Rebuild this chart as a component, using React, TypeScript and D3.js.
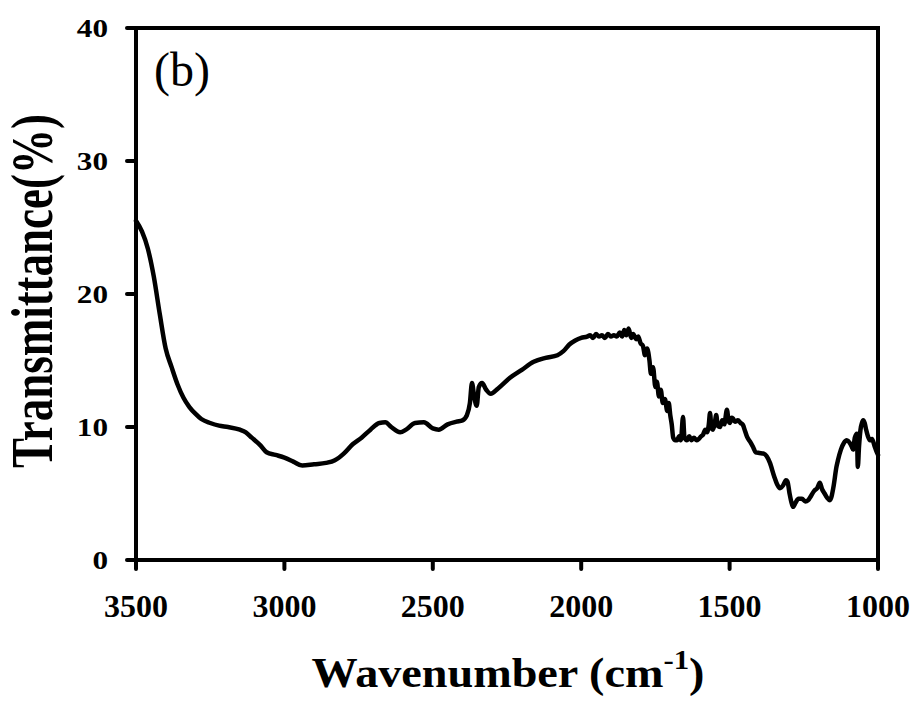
import React from "react";
import * as d3 from "d3";

const wavenumber = [
  3500, 3480, 3460, 3440, 3420, 3400, 3380, 3360, 3340, 3320, 3300, 3280, 3250, 3220, 3190, 3150, 3130, 3110, 3080, 3060,
  3030, 3000, 2970, 2940, 2900, 2860, 2830, 2800, 2770, 2740, 2710, 2680, 2660, 2640, 2610, 2590, 2560, 2530, 2500, 2480,
  2450, 2420, 2400, 2385, 2375, 2368, 2360, 2352, 2345, 2334, 2320, 2305, 2280, 2240, 2200, 2160, 2120, 2080, 2060, 2040,
  2020, 2000, 1980, 1970, 1960, 1950, 1940, 1930, 1920, 1910, 1900, 1890, 1880, 1870, 1862, 1855, 1848, 1840, 1832, 1825,
  1815, 1808, 1800, 1792, 1785, 1778, 1770, 1765, 1758, 1750, 1745, 1738, 1732, 1725, 1718, 1710, 1705, 1700, 1695, 1690,
  1683, 1677, 1670, 1664, 1657, 1652, 1644, 1636, 1628, 1620, 1612, 1604, 1596, 1590, 1582, 1576, 1570, 1566, 1561, 1556,
  1550, 1545, 1540, 1532, 1525, 1518, 1509, 1503, 1499, 1493, 1489, 1482, 1472, 1463, 1455, 1448, 1441, 1431, 1421, 1412,
  1400, 1385, 1375, 1364, 1350, 1340, 1330, 1320, 1310, 1305, 1298, 1290, 1286, 1278, 1268, 1256, 1245, 1235, 1229, 1215,
  1205, 1196, 1188, 1180, 1172, 1162, 1150, 1140, 1135, 1125, 1115, 1105, 1095, 1088, 1084, 1078, 1071, 1068, 1064, 1059,
  1054, 1050, 1045, 1040, 1034, 1027, 1020, 1012, 1003, 1000,
];

const transmittance = [
  25.5, 24.7, 23.4, 21.3, 18.5, 15.9, 14.5, 13.2, 12.2, 11.5, 11.0, 10.6, 10.3, 10.1, 10.0, 9.8, 9.6, 9.2, 8.6, 8.1,
  7.9, 7.7, 7.4, 7.1, 7.2, 7.3, 7.5, 8.0, 8.7, 9.2, 9.8, 10.3, 10.35, 10.0, 9.6, 9.8, 10.3, 10.35, 9.9, 9.8,
  10.2, 10.4, 10.5, 10.9, 11.8, 13.3, 12.2, 11.6, 13.0, 13.3, 12.8, 12.5, 12.9, 13.7, 14.3, 14.9, 15.2, 15.4, 15.7, 16.2,
  16.5, 16.7, 16.8, 16.9, 16.7, 17.0, 16.8, 16.9, 16.7, 17.0, 16.8, 16.9, 16.8, 17.1, 16.8, 17.3, 16.9, 17.4, 16.7, 17.0,
  16.6, 16.8, 16.3, 16.1, 15.4, 15.9, 15.0, 14.0, 14.5, 13.0, 13.4, 12.3, 12.8, 11.8, 12.1, 11.2, 11.8, 10.9, 10.2, 9.2,
  9.0, 9.0, 9.3, 9.0, 10.75, 9.2, 9.0, 9.3, 9.0, 9.2, 9.0, 9.1, 9.3, 9.4, 9.8, 9.6, 10.2, 11.05, 9.9, 9.8,
  10.3, 10.9, 10.1, 10.0, 10.5, 10.2, 11.3, 10.4, 10.3, 10.7, 10.65, 10.4, 10.5, 10.3, 10.15, 9.7, 9.25, 8.9, 8.5, 8.1,
  8.05, 8.0, 7.8, 7.3, 6.3, 5.7, 5.4, 5.6, 6.0, 5.9, 5.0, 4.2, 4.0, 4.3, 4.6, 4.6, 4.4, 4.5, 4.7, 5.2,
  5.4, 5.8, 5.3, 5.0, 4.7, 4.5, 5.5, 7.0, 7.5, 8.3, 8.8, 9.0, 8.8, 8.5, 8.3, 9.2, 9.5, 7.0, 8.5, 9.8,
  10.3, 10.5, 10.3, 9.8, 9.3, 9.0, 9.1, 8.6, 8.05, 7.9,
];

const xTicks = [3500, 3000, 2500, 2000, 1500, 1000];
const yTicks = [0, 10, 20, 30, 40];

const W = 915;
const H = 702;
const left = 136;
const right = 878;
const top = 28;
const bottom = 560;

export default function App() {
  const x = d3.scaleLinear().domain([3500, 1000]).range([left, right]);
  const y = d3.scaleLinear().domain([0, 40]).range([bottom, top]);
  const pts = wavenumber.map((w, i) => [w, transmittance[i]] as [number, number]);
  const line = d3
    .line<[number, number]>()
    .x((d) => x(d[0]))
    .y((d) => y(d[1]))
    .curve(d3.curveMonotoneX);
  const font = "'Liberation Serif', 'Times New Roman', serif";

  return (
    <svg
      width={W}
      height={H}
      style={{ position: "absolute", left: 0, top: 0, background: "#fff" }}
      fontFamily={font}
    >
      <rect x={0} y={0} width={W} height={H} fill="#fff" />
      <path d={line(pts) || ""} fill="none" stroke="#000" strokeWidth={4.5} strokeLinejoin="round" strokeLinecap="round" />
      <rect x={left} y={top} width={right - left} height={bottom - top} fill="none" stroke="#000" strokeWidth={4} />
      {yTicks.map((t) => (
        <g key={"y" + t}>
          <line x1={left - 9} x2={left} y1={y(t)} y2={y(t)} stroke="#000" strokeWidth={4} strokeLinecap="round" />
          <text
            transform={`translate(108, ${y(t) + 9}) scale(1.2,1)`}
            textAnchor="end"
            fontSize={26}
            fontWeight="bold"
          >
            {t}
          </text>
        </g>
      ))}
      {xTicks.map((t) => (
        <g key={"x" + t}>
          <line x1={x(t)} x2={x(t)} y1={bottom} y2={bottom + 9} stroke="#000" strokeWidth={4} strokeLinecap="round" />
          <text x={x(t)} y={617} textAnchor="middle" fontSize={32} fontWeight="bold">
            {t}
          </text>
        </g>
      ))}
      <text
        transform={`translate(52, 291) scale(1.3,1) rotate(-90)`}
        textAnchor="middle"
        fontSize={45}
        fontWeight="bold"
      >
        Transmittance(%)
      </text>
      <text transform={`translate(508, 687) scale(1.1,1)`} textAnchor="middle" fontSize={42} fontWeight="bold">
        Wavenumber (cm
        <tspan fontSize={28} dy={-18}>-1</tspan>
        <tspan dy={18}>)</tspan>
      </text>
      <text x={154} y={86} fontSize={48}>
        (b)
      </text>
    </svg>
  );
}
